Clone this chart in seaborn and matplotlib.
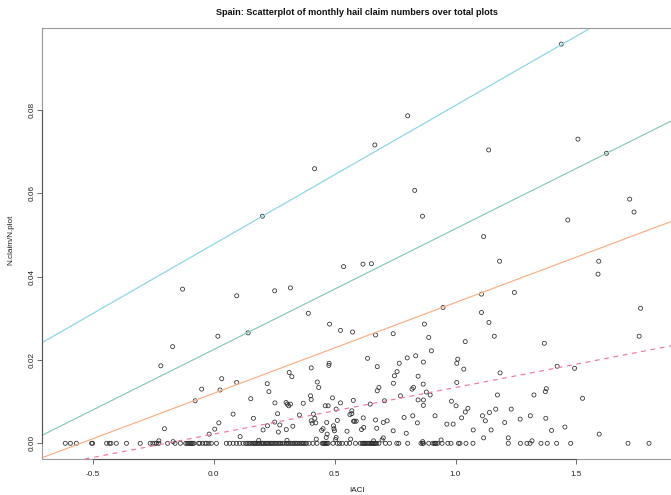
import matplotlib
matplotlib.use("Agg")
import matplotlib.pyplot as plt
import matplotlib.transforms as mtransforms
import numpy as np
import pandas as pd
import seaborn as sns

# ---------------------------------------------------------------------------
# Monthly hail claim ratio (N.claim / N.plot) against the IACI index, Spain
# ---------------------------------------------------------------------------

# months with at least one claim: IACI value and claim ratio
claim_iaci = [
    0.417, 0.201, 0.537, -0.129, 0.095, 0.252, 0.317,
    1.437, 0.802, 0.666, 1.506, 1.137, 1.624, 0.831, 1.720, 1.738, 0.863,
    1.464, 1.116, 0.617, 0.652, 1.182, 1.592, 1.589, 1.107, 1.243, 0.948,
    1.765,
    0.391, 0.479, 0.524, 0.574, 0.017, 0.142, -0.170, -0.219, 0.403, 0.477,
    0.476, 0.312, 0.323, 0.033, 0.095, 0.026, -0.050, 0.428, 0.434, 0.221,
    0.228, 0.400, 0.403, 0.491, 0.577, 0.153, -0.077, 0.253, 0.299, 0.304,
    0.310, 0.317, 0.370, 0.461, 0.473, 0.524, 0.506, 0.264, 0.080, 0.354,
    0.412, 0.571, 0.563, 0.164, 0.418, 0.511, 0.582, 0.021, 0.252, 0.273,
    0.403, 0.407, 0.422, 0.467, 0.222, 0.204, 0.327, 0.004, -0.204, 0.300,
    0.267, 0.446, 0.452, 0.495, 0.497, 0.499, 0.551, -0.019, 0.109, 0.469,
    0.465, 0.506,
    -0.227, -0.168, 0.186, 0.303, 0.424, 0.504, 0.566,
    1.107, 1.138, 1.160, 1.759, 0.669, 0.742, 0.871, 0.889, 1.040, 1.367,
    0.636, 0.900, 0.676, 0.767, 0.800, 0.835, 0.867, 1.005, 1.009, 1.034,
    1.184, 1.420, 1.492, 0.747, 0.758, 0.845, 0.743, 0.683, 0.676, 0.826,
    0.820, 0.866, 0.879, 0.895, 1.005, 0.772, 0.845, 0.867, 0.867, 1.173,
    1.324, 1.371, 1.375, 1.525, 0.647, 0.706, 0.983, 1.002, 1.051, 1.040,
    1.140, 1.166, 1.230, 0.571, 0.915, 1.025, 1.111, 1.123, 1.309, 1.373,
    0.618, 0.578, 0.589, 0.669, 0.717, 0.701, 0.787, 0.823, 0.842, 0.964,
    0.990, 1.203, 1.267, 0.611, 0.620, 0.674, 0.742, 0.796, 1.073, 1.147,
    1.397, 1.452, 1.594, 0.701, 1.116, 1.218,
    0.661, 0.696, 0.864, 0.940, 1.316,
]
claim_ratio = [
    0.0659, 0.0545, 0.0424, 0.0370, 0.0354, 0.0366, 0.0373,
    0.0958, 0.0786, 0.0716, 0.0730, 0.0704, 0.0696, 0.0607, 0.0586, 0.0555,
    0.0545, 0.0536, 0.0496, 0.0430, 0.0431, 0.0437, 0.0437, 0.0406, 0.0358,
    0.0362, 0.0326, 0.0324,
    0.0312, 0.0286, 0.0271, 0.0267, 0.0257, 0.0265, 0.0232, 0.0186, 0.0181,
    0.0192, 0.0187, 0.0170, 0.0160, 0.0155, 0.0146, 0.0128, 0.0130, 0.0147,
    0.0134, 0.0143, 0.0124, 0.0114, 0.0105, 0.0109, 0.0103, 0.0107, 0.0102,
    0.0097, 0.0098, 0.0094, 0.0090, 0.0094, 0.0096, 0.0090, 0.0090, 0.0097,
    0.0082, 0.0071, 0.0070, 0.0068, 0.0070, 0.0071, 0.0069, 0.0060, 0.0060,
    0.0055, 0.0053, 0.0049, 0.0051, 0.0044, 0.0054, 0.0048, 0.0049, 0.0050,
    0.0042, 0.0032, 0.0041, 0.0034, 0.0035, 0.0033, 0.0027, 0.0031, 0.0035,
    0.0042, 0.0035, 0.0030, 0.0029, 0.0022, 0.0016, 0.0022, 0.0014, 0.0014,
    0.0006, 0.0004, 0.0007, 0.0007, 0.0010, 0.0009, 0.0010,
    0.0314, 0.0290, 0.0257, 0.0257, 0.0260, 0.0263, 0.0286, 0.0254, 0.0244,
    0.0240, 0.0204, 0.0222, 0.0184, 0.0192, 0.0205, 0.0210, 0.0195, 0.0192,
    0.0202, 0.0178, 0.0169, 0.0185, 0.0180, 0.0162, 0.0172, 0.0161, 0.0144,
    0.0134, 0.0126, 0.0134, 0.0130, 0.0142, 0.0123, 0.0116, 0.0146, 0.0114,
    0.0104, 0.0104, 0.0091, 0.0116, 0.0116, 0.0124, 0.0131, 0.0108, 0.0094,
    0.0102, 0.0101, 0.0090, 0.0084, 0.0075, 0.0074, 0.0082, 0.0082, 0.0078,
    0.0066, 0.0061, 0.0066, 0.0054, 0.0066, 0.0060, 0.0061, 0.0053, 0.0053,
    0.0056, 0.0054, 0.0050, 0.0062, 0.0066, 0.0049, 0.0046, 0.0046, 0.0050,
    0.0058, 0.0033, 0.0038, 0.0036, 0.0030, 0.0024, 0.0032, 0.0032, 0.0031,
    0.0039, 0.0022, 0.0013, 0.0013, 0.0013,
    0.0006, 0.0008, 0.0004, 0.0008, 0.0006,
]

# months without any claim: IACI value only (ratio = 0)
no_claim_iaci = [
    -0.614, -0.593, -0.568, -0.505, -0.501, -0.443, -0.431, -0.425, -0.403,
    -0.361, -0.304, -0.263, -0.252, -0.244, -0.237, -0.227, -0.191, -0.160,
    -0.138, -0.116, -0.110, -0.105, -0.099, -0.095, -0.092, -0.087, -0.082,
    -0.063, -0.058, -0.046, -0.036, -0.030, -0.020, -0.010, 0.011,
    0.052, 0.066, 0.080, 0.094, 0.107, 0.121, 0.132, 0.138, 0.145, 0.151,
    0.158, 0.164, 0.169, 0.173, 0.178, 0.184, 0.190, 0.197, 0.201, 0.206,
    0.212, 0.217, 0.222, 0.228, 0.233, 0.238, 0.243, 0.249, 0.255, 0.261,
    0.267, 0.273, 0.278, 0.284, 0.292, 0.300, 0.305, 0.311, 0.318, 0.325,
    0.331, 0.337, 0.342, 0.348, 0.355, 0.361, 0.366, 0.372, 0.378, 0.383,
    0.394, 0.410, 0.427, 0.449, 0.453, 0.457, 0.461, 0.465, 0.469, 0.473,
    0.493, 0.511, 0.520, 0.531, 0.548, 0.562, 0.586,
    0.606, 0.614, 0.618, 0.622, 0.626, 0.630, 0.636, 0.641, 0.646, 0.651,
    0.655, 0.658, 0.662, 0.665, 0.670, 0.674, 0.683, 0.710, 0.727, 0.757,
    0.765, 0.802, 0.857, 0.864, 0.867, 0.889, 0.906, 0.912, 0.916, 0.919,
    0.926, 0.944, 0.968, 0.981, 1.012, 1.018, 1.043, 1.072, 1.218, 1.268,
    1.295, 1.308, 1.353, 1.379, 1.418, 1.476, 1.713, 1.800,
]

# quantile regression lines: intercept and slope for each fitted level
line_labels = ["q99", "q95", "q90", "q50"]
line_intercepts = [0.0478, 0.0225, 0.0120, 0.0022]
line_slopes = [0.0333, 0.0290, 0.0218, 0.0112]
line_colors = ["#86D6E3", "#80CDB2", "#FCAE82", "#F2779A"]
line_styles = ["-", "-", "-", (0, (4, 4))]

plot_df = pd.DataFrame({
    "IACI": claim_iaci + no_claim_iaci,
    "ratio": claim_ratio + [0.0] * len(no_claim_iaci),
})

# ---------------------------------------------------------------------------
sns.set_theme(style="white")
plt.rcParams["font.family"] = ["Liberation Sans", "DejaVu Sans"]

W, H = 671, 495
fig = plt.figure(figsize=(W / 100, H / 100), dpi=100)
ax_left, ax_right, ax_top, ax_bottom = 42.3, 672.5, 28.3, 459.0
ax = fig.add_axes([ax_left / W, 1 - ax_bottom / H,
                   (ax_right - ax_left) / W, (ax_bottom - ax_top) / H])

sns.scatterplot(data=plot_df, x="IACI", y="ratio", ax=ax,
                marker="o", s=8.5, facecolors="none",
                edgecolor="#2a2a2a", linewidth=0.55, legend=False)

for a, b, c, ls in zip(line_intercepts, line_slopes, line_colors, line_styles):
    ax.axline((0, a), slope=b, color=c, linewidth=0.85, linestyle=ls)

ax.set_xlim(-0.709, 1.897)
ax.set_ylim(-0.00377, 0.0996)

ax.set_xticks([-0.5, 0.0, 0.5, 1.0, 1.5])
ax.set_xticklabels(["-0.5", "0.0", "0.5", "1.0", "1.5"])
ax.set_yticks([0.0, 0.02, 0.04, 0.06, 0.08])
ax.set_yticklabels(["0.00", "0.02", "0.04", "0.06", "0.08"],
                   rotation=90, va="center")

ax.tick_params(axis="both", direction="out", length=3.4, width=0.6,
               color="#555555", labelsize=5.9, labelcolor="#222222")
ax.tick_params(axis="x", pad=5.0, bottom=True)
ax.tick_params(axis="y", pad=1.6, left=True)

for sp in ax.spines.values():
    sp.set_color("#9a9a9a")
    sp.set_linewidth(0.8)

# axis lines spanning the tick range, drawn over the frame
xb = mtransforms.blended_transform_factory(ax.transData, ax.transAxes)
yb = mtransforms.blended_transform_factory(ax.transAxes, ax.transData)
ax.plot([-0.5, 1.5], [0, 0], transform=xb, color="#555555",
        linewidth=0.8, clip_on=False, zorder=5)
ax.plot([0, 0], [0.0, 0.08], transform=yb, color="#555555",
        linewidth=0.8, clip_on=False, zorder=5)

ax.set_xlabel("")
ax.set_ylabel("")
fig.text(357 / W, 1 - 491 / H, "IACI", ha="center", va="center",
         fontsize=5.9, color="#222222")
fig.text(10.5 / W, 1 - 240 / H, "N.claim/N.plot", ha="center", va="center",
         rotation=90, fontsize=5.9, color="#222222")
fig.text(357 / W, 1 - 12.5 / H,
         "Spain: Scatterplot of monthly hail claim numbers over total plots",
         ha="center", va="center", fontsize=6.6, fontweight="bold",
         color="#111111")

fig.savefig("out.png", dpi=100, facecolor="white")
